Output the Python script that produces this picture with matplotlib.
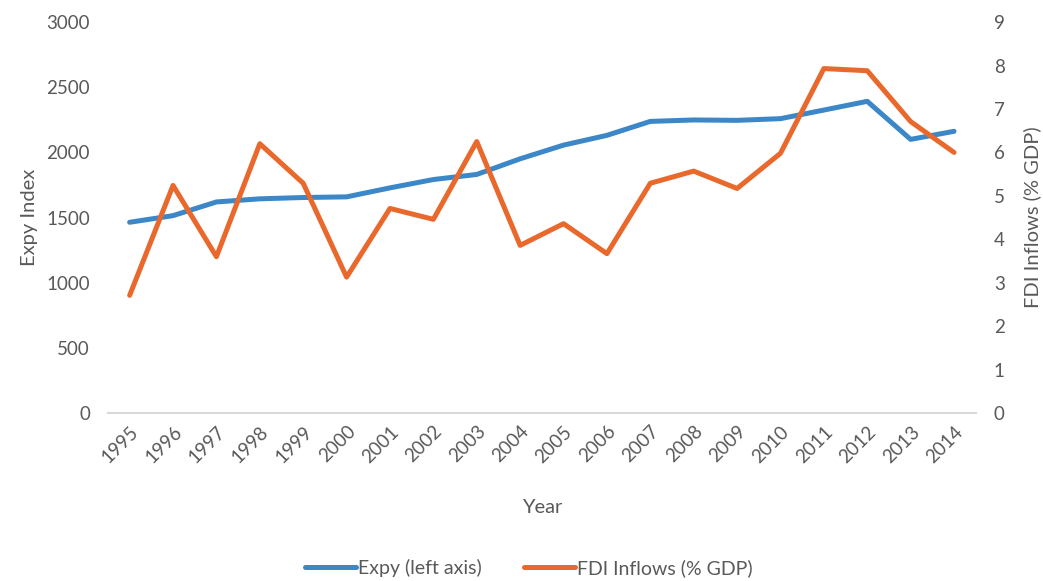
import numpy as np
import matplotlib.pyplot as plt

plt.rcParams["font.family"] = ["Lato", "DejaVu Sans"]

years = [str(y) for y in range(1995, 2015)]
expy = [1464, 1515, 1620, 1644, 1654, 1659, 1728, 1792, 1831, 1951,
        2056, 2131, 2238, 2249, 2246, 2259, 2325, 2392, 2100, 2162]
fdi = [2.71, 5.24, 3.60, 6.20, 5.29, 3.13, 4.71, 4.46, 6.25, 3.86,
       4.36, 3.67, 5.29, 5.57, 5.17, 5.98, 7.93, 7.88, 6.71, 6.00]

blue = '#3c87c8'
orange = '#e9682c'
grey = '#595959'

fig = plt.figure(figsize=(10.43, 5.81), dpi=100)
ax = fig.add_axes([0.1035, 0.289, 0.832, 0.673])
ax2 = ax.twinx()

x = np.arange(len(years))
l1, = ax.plot(x, expy, '-', color=blue, lw=3.6, solid_capstyle='round', label='Expy (left axis)')
l2, = ax2.plot(x, fdi, '-', color=orange, lw=3.6, solid_capstyle='round', label='FDI Inflows (% GDP)')

ax.set_xlim(-0.5, len(years) - 0.5)
ax.set_ylim(0, 3000)
ax.set_yticks(range(0, 3001, 500))
ax2.set_ylim(0, 9)
ax2.set_yticks(range(0, 10))

ax.set_xticks(x)
ax.set_xticklabels(years, rotation=45, ha='right', rotation_mode='anchor')

for a in (ax, ax2):
    for s in a.spines.values():
        s.set_visible(False)
    a.tick_params(length=0, colors=grey, labelsize=13.5)
ax.spines['bottom'].set_visible(True)
ax.spines['bottom'].set_color('#d9d9d9')
ax.spines['bottom'].set_linewidth(1.5)
ax.tick_params(axis='y', pad=13)
ax2.tick_params(axis='y', pad=13)
ax.tick_params(axis='x', pad=7)

ax.set_ylabel('Expy Index', color=grey, fontsize=14.5, labelpad=6)
ax2.set_ylabel('FDI Inflows (% GDP)', color=grey, fontsize=14.5, labelpad=13)
ax.set_xlabel('Year', color=grey, fontsize=14.5, labelpad=24)

leg = fig.legend(handles=[l1, l2], loc='center', bbox_to_anchor=(0.507, 0.022),
                 ncol=2, frameon=False, fontsize=14, handlelength=2.6,
                 handletextpad=0.1, columnspacing=2.2)
for t in leg.get_texts():
    t.set_color(grey)

fig.savefig('out.png', dpi=100)
